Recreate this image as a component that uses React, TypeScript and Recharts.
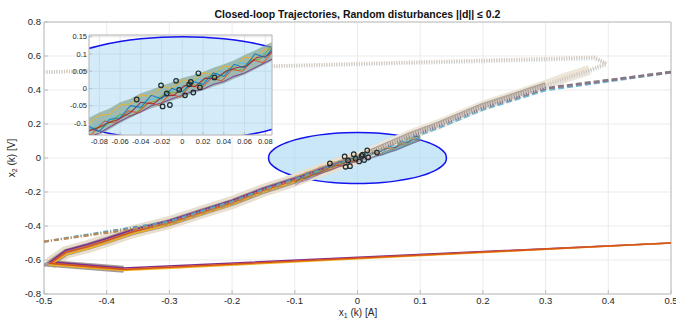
import { Area, CartesianGrid, ComposedChart, Line, ReferenceArea, XAxis, YAxis } from "recharts"

const xTicks = [-0.5, -0.4, -0.3, -0.2, -0.1, 0, 0.1, 0.2, 0.3, 0.4, 0.5]
const yTicks = [-0.8, -0.6, -0.4, -0.2, 0, 0.2, 0.4, 0.6, 0.8]
const insetXTicks = [-0.08, -0.06, -0.04, -0.02, 0, 0.02, 0.04, 0.06, 0.08]
const insetYTicks = [-0.1, -0.05, 0, 0.05, 0.1, 0.15]

// start (0.5, -0.5), solid
const solidX = [0.5, -0.373, -0.49, -0.465, -0.43, -0.4, -0.36, -0.3, -0.25, -0.2, -0.15, -0.1, -0.06, -0.03, 0]
const solidY1 = [-0.5, -0.655, -0.62, -0.555, -0.52, -0.485, -0.435, -0.38, -0.32, -0.262, -0.19, -0.13, -0.075, -0.035, 0]
const solidY2 = [-0.5, -0.647, -0.611, -0.542, -0.507, -0.474, -0.423, -0.368, -0.309, -0.25, -0.18, -0.121, -0.068, -0.03, 0.003]
const solidY3 = [-0.5, -0.662, -0.629, -0.568, -0.533, -0.498, -0.447, -0.392, -0.332, -0.274, -0.2, -0.139, -0.082, -0.04, -0.003]

// start (-0.5, -0.5), dash-dot
const dashDotX = [-0.5, -0.3, -0.25, -0.2, -0.15, -0.1, -0.06, -0.03, 0]
const dashDotY1 = [-0.492, -0.374, -0.314, -0.256, -0.186, -0.125, -0.071, -0.033, 0.002]
const dashDotY2 = [-0.492, -0.388, -0.327, -0.268, -0.196, -0.134, -0.079, -0.037, -0.002]

// start (0.5, 0.5), dashed
const dashedX = [0.5, 0.3, 0.25, 0.2, 0.13, 0.084, 0.04, 0]
const dashedY1 = [0.505, 0.41, 0.352, 0.296, 0.19, 0.126, 0.058, 0]
const dashedY2 = [0.505, 0.4, 0.343, 0.286, 0.18, 0.118, 0.052, -0.003]

// start (-0.5, 0.5), dotted
const dottedX = [-0.5, 0.378, 0.397, 0.37, 0.33, 0.3, 0.25, 0.2, 0.13, 0.084, 0.04, 0]
const dottedY1 = [0.505, 0.592, 0.557, 0.518, 0.47, 0.43, 0.368, 0.308, 0.2, 0.137, 0.066, 0.003]
const dottedY2 = [0.505, 0.584, 0.549, 0.509, 0.46, 0.42, 0.358, 0.298, 0.191, 0.129, 0.061, -0.002]

// invariant ellipse: x positions and half heights
const ellipseX = [-0.142, -0.141, -0.138, -0.133, -0.125, -0.115, -0.1, -0.08, -0.06, -0.04, -0.02, 0, 0.02, 0.04, 0.06, 0.08, 0.1, 0.115, 0.125, 0.133, 0.138, 0.141, 0.142]
const ellipseHalf = [0, 0.0177, 0.0353, 0.0525, 0.0712, 0.088, 0.1065, 0.1239, 0.136, 0.1439, 0.1485, 0.15, 0.1485, 0.1439, 0.136, 0.1239, 0.1065, 0.088, 0.0712, 0.0525, 0.0353, 0.0177, 0]

// noisy cloud near the origin
const cloudX = [-0.1, -0.09, -0.08, -0.07, -0.06, -0.05, -0.04, -0.03, -0.02, -0.01, 0, 0.01, 0.02, 0.03, 0.04, 0.05, 0.06, 0.07, 0.08, 0.09, 0.1]
const cloudLow = [-0.165, -0.15, -0.135, -0.118, -0.1, -0.085, -0.07, -0.058, -0.048, -0.036, -0.026, -0.014, -0.006, 0.006, 0.014, 0.028, 0.04, 0.055, 0.07, 0.085, 0.1]
const cloudHigh = [-0.1, -0.085, -0.07, -0.058, -0.04, -0.03, -0.014, -0.004, 0.008, 0.018, 0.03, 0.038, 0.048, 0.06, 0.07, 0.082, 0.097, 0.11, 0.125, 0.14, 0.155]

const noiseBlue = [[-0.1, -0.15], [-0.09, -0.11], [-0.08, -0.125], [-0.07, -0.09], [-0.06, -0.085], [-0.05, -0.05], [-0.04, -0.055], [-0.03, -0.02], [-0.02, -0.03], [-0.01, 0], [0, -0.01], [0.01, 0.02], [0.02, 0.012], [0.03, 0.045], [0.04, 0.035], [0.05, 0.07], [0.06, 0.06], [0.07, 0.1], [0.08, 0.09], [0.09, 0.13], [0.1, 0.12]]
const noiseOrange = [[-0.1, -0.12], [-0.088, -0.135], [-0.075, -0.095], [-0.065, -0.1], [-0.052, -0.065], [-0.043, -0.07], [-0.032, -0.04], [-0.022, -0.05], [-0.012, -0.015], [-0.002, -0.025], [0.008, 0.01], [0.018, 0], [0.028, 0.03], [0.038, 0.022], [0.048, 0.055], [0.058, 0.05], [0.068, 0.082], [0.078, 0.075], [0.088, 0.11], [0.1, 0.1]]
const noiseYellow = [[-0.1, -0.105], [-0.09, -0.1], [-0.08, -0.078], [-0.07, -0.075], [-0.06, -0.048], [-0.05, -0.045], [-0.04, -0.02], [-0.03, -0.022], [-0.02, 0.005], [-0.01, 0], [0, 0.025], [0.01, 0.02], [0.02, 0.045], [0.03, 0.042], [0.04, 0.065], [0.05, 0.062], [0.06, 0.09], [0.07, 0.088], [0.08, 0.115], [0.09, 0.112], [0.1, 0.145]]
const noisePurple = [[-0.1, -0.16], [-0.09, -0.14], [-0.08, -0.13], [-0.07, -0.112], [-0.06, -0.095], [-0.05, -0.08], [-0.04, -0.068], [-0.03, -0.05], [-0.02, -0.042], [-0.01, -0.03], [0, -0.02], [0.01, -0.008], [0.02, -0.002], [0.03, 0.012], [0.04, 0.02], [0.05, 0.035], [0.06, 0.045], [0.07, 0.06], [0.08, 0.075], [0.09, 0.09], [0.1, 0.105]]
const noiseGreen = [[-0.1, -0.135], [-0.085, -0.115], [-0.075, -0.11], [-0.06, -0.075], [-0.048, -0.08], [-0.035, -0.045], [-0.025, -0.035], [-0.015, -0.01], [-0.005, -0.012], [0.005, 0.015], [0.015, 0.008], [0.025, 0.035], [0.035, 0.03], [0.045, 0.058], [0.055, 0.052], [0.065, 0.08], [0.075, 0.085], [0.085, 0.12], [0.1, 0.125]]
const noiseCyan = [[-0.1, -0.125], [-0.09, -0.12], [-0.078, -0.1], [-0.068, -0.085], [-0.055, -0.075], [-0.045, -0.058], [-0.035, -0.035], [-0.025, -0.028], [-0.015, -0.02], [-0.005, 0.005], [0.005, 0.002], [0.015, 0.028], [0.025, 0.02], [0.035, 0.05], [0.045, 0.045], [0.055, 0.075], [0.065, 0.07], [0.075, 0.1], [0.085, 0.1], [0.1, 0.135]]
const noiseRed = [[-0.1, -0.14], [-0.092, -0.125], [-0.082, -0.115], [-0.072, -0.1], [-0.062, -0.09], [-0.05, -0.07], [-0.04, -0.04], [-0.028, -0.045], [-0.018, -0.022], [-0.008, -0.02], [0.002, 0.008], [0.012, 0.005], [0.022, 0.03], [0.032, 0.028], [0.042, 0.05], [0.052, 0.06], [0.062, 0.065], [0.072, 0.09], [0.082, 0.095], [0.092, 0.125], [0.1, 0.13]]

// final states (circles)
const finalStates = [[-0.0205, 0.009], [-0.006, 0.022], [0.0082, 0.019], [0.0066, 0.012], [-0.015, -0.0145], [-0.003, -0.004], [0.0106, -0.0117], [0.0026, -0.02], [-0.012, -0.048], [-0.019, -0.052], [0.0155, 0.044], [0.031, 0.032], [-0.044, -0.032], [0.017, 0.003]]

const font = '"Liberation Sans", Arial, Helvetica, sans-serif'
const tickFont = { fontSize: 9.5, fill: "#262626", fontFamily: font }
const insetFont = { fontSize: 7.5, fill: "#262626", fontFamily: font }
const axisGray = "#bcbcbc"

const pts = (xs: number[], ys: number[]) => xs.map((x, i) => ({ x, y: ys[i] }))
const pairs = (p: number[][]) => p.map(([x, y]) => ({ x, y }))

const ellipseData = ellipseX.map((x, i) => ({ x, r: [-ellipseHalf[i], ellipseHalf[i]] }))
const cloudData = cloudX.map((x, i) => ({ x, r: [cloudLow[i], cloudHigh[i]] }))

type Traj = { data: { x: number; y: number }[]; stroke: string; width: number; opacity?: number; dash?: string }

const trajectories: Traj[] = [
  // pale fringe and blended core of the bundles
  { data: pts(solidX.slice(2), solidY1.slice(2)), stroke: "#e9dfd0", width: 13 },
  { data: pts(dottedX.slice(3), dottedY1.slice(3)), stroke: "#eee6d9", width: 10 },
  { data: pts(solidX.slice(1), solidY1.slice(1)), stroke: "#958781", width: 7, opacity: 0.85 },
  { data: pts(dottedX.slice(5), dottedY1.slice(5)), stroke: "#9d908a", width: 5.5, opacity: 0.8 },
  // individual runs
  { data: pts(solidX, solidY2), stroke: "#7E2F8E", width: 1.6 },
  { data: pts(solidX, solidY3), stroke: "#EDB120", width: 1.6 },
  { data: pts(solidX, solidY1), stroke: "#D95319", width: 1.6 },
  { data: pts(dashDotX, dashDotY1), stroke: "#5aa0b8", width: 2.2, dash: "5 2 1 2" },
  { data: pts(dashDotX, dashDotY2), stroke: "#b88a55", width: 2.2, dash: "5 2 1 2" },
  { data: pts(dashedX, dashedY2), stroke: "#6fb8d8", width: 2.8, dash: "6 3" },
  { data: pts(dashedX, dashedY1), stroke: "#8a7683", width: 2.8, dash: "6 3" },
  { data: pts(dottedX, dottedY2), stroke: "#cdd9e0", width: 3.5, dash: "1 1.5" },
  { data: pts(dottedX, dottedY1), stroke: "#d3c6b8", width: 3.5, dash: "1 1.5" },
]

const noise = [
  { data: pairs(noiseYellow), stroke: "#EDB120" },
  { data: pairs(noiseCyan), stroke: "#4DBEEE" },
  { data: pairs(noiseGreen), stroke: "#77AC30" },
  { data: pairs(noisePurple), stroke: "#7E2F8E" },
  { data: pairs(noiseOrange), stroke: "#D95319" },
  { data: pairs(noiseRed), stroke: "#A2142F" },
  { data: pairs(noiseBlue), stroke: "#0072BD" },
]

const circleDot = { r: 2.3, fill: "none", stroke: "#1d2b30", strokeWidth: 1.2 }

export default function App() {
  return (
    <div style={{ position: "absolute", left: 0, top: 0, width: 676, height: 322, background: "#fff", fontFamily: font }}>
      <ComposedChart width={676} height={322} margin={{ top: 22, right: 5, bottom: 8, left: 0 }}>
        <CartesianGrid stroke="#ebebeb" />
        <XAxis
          type="number"
          dataKey="x"
          domain={[-0.5, 0.5]}
          ticks={xTicks}
          interval={0}
          allowDataOverflow
          height={20}
          axisLine={false}
          tickLine={{ stroke: axisGray }}
          tickSize={-4}
          tickMargin={7.5}
          tick={tickFont}
        />
        <XAxis xAxisId="top" orientation="top" type="number" domain={[-0.5, 0.5]} ticks={xTicks} interval={0} height={0} axisLine={false} tickLine={{ stroke: axisGray }} tickSize={-4} tick={false} />
        <YAxis
          type="number"
          dataKey="y"
          domain={[-0.8, 0.8]}
          ticks={yTicks}
          interval={0}
          allowDataOverflow
          width={44}
          axisLine={false}
          tickLine={{ stroke: axisGray }}
          tickSize={-4}
          tickMargin={7}
          tick={tickFont}
        />
        <YAxis yAxisId="right" orientation="right" type="number" domain={[-0.8, 0.8]} ticks={yTicks} interval={0} width={0} axisLine={false} tickLine={{ stroke: axisGray }} tickSize={-4} tick={false} />
        <Area data={ellipseData} dataKey="r" type="monotone" fill="#9fd4f2" fillOpacity={0.55} stroke="#1414f0" strokeWidth={1.5} isAnimationActive={false} />
        {trajectories.map((t, i) => (
          <Line key={"t" + i} data={t.data} dataKey="y" type="linear" stroke={t.stroke} strokeWidth={t.width} strokeOpacity={t.opacity ?? 1} strokeDasharray={t.dash} dot={false} isAnimationActive={false} />
        ))}
        <Area data={cloudData} dataKey="r" type="linear" fill="#5e9e9f" fillOpacity={0.8} stroke="none" isAnimationActive={false} />
        {noise.map((n, i) => (
          <Line key={"n" + i} data={n.data} dataKey="y" type="linear" stroke={n.stroke} strokeWidth={0.8} strokeOpacity={0.6} dot={false} isAnimationActive={false} />
        ))}
        <Line data={pairs(finalStates)} dataKey="y" stroke="none" dot={circleDot} isAnimationActive={false} />
        <ReferenceArea x1={-0.5} x2={0.5} y1={-0.8} y2={0.8} fill="none" stroke={axisGray} strokeWidth={1} />
      </ComposedChart>

      <div style={{ position: "absolute", left: 44, top: 7, width: 627, textAlign: "center", fontSize: 10.5, fontWeight: "bold", color: "#111", lineHeight: "14px" }}>
        Closed-loop Trajectories, Random disturbances ||d|| ≤ 0.2
      </div>
      <div style={{ position: "absolute", left: 358, top: 314, transform: "translate(-50%, -50%)", fontSize: 10, color: "#262626", whiteSpace: "nowrap", lineHeight: "12px" }}>
        x<sub style={{ fontSize: 7, verticalAlign: "-2px" }}>1</sub> (k) [A]
      </div>
      <div style={{ position: "absolute", left: 13, top: 158, transform: "translate(-50%, -50%) rotate(-90deg)", fontSize: 10, color: "#262626", whiteSpace: "nowrap", lineHeight: "12px" }}>
        x<sub style={{ fontSize: 7, verticalAlign: "-2px" }}>2</sub> (k) [V]
      </div>

      <div style={{ position: "absolute", left: 55, top: 25 }}>
        <ComposedChart width={222} height={130} margin={{ top: 10, right: 5, bottom: 6, left: 8 }}>
          <CartesianGrid stroke="#e4e4e4" fill="#ffffff" fillOpacity={1} />
          <XAxis
            type="number"
            dataKey="x"
            domain={[-0.09, 0.0865]}
            ticks={insetXTicks}
            interval={0}
            allowDataOverflow
            height={14}
            axisLine={false}
            tickLine={{ stroke: axisGray }}
            tickSize={-3}
            tickMargin={6.5}
            tick={insetFont}
          />
          <YAxis
            type="number"
            dataKey="y"
            domain={[-0.135, 0.155]}
            ticks={insetYTicks}
            interval={0}
            allowDataOverflow
            width={26}
            axisLine={false}
            tickLine={{ stroke: axisGray }}
            tickSize={-3}
            tickMargin={5}
            tick={insetFont}
          />
          <Area data={ellipseData} dataKey="r" type="monotone" fill="#9fd4f2" fillOpacity={0.45} stroke="#1414f0" strokeWidth={1.6} isAnimationActive={false} />
          <Area data={cloudData} dataKey="r" type="linear" fill="#86a596" fillOpacity={0.7} stroke="none" isAnimationActive={false} />
          {noise.map((n, i) => (
            <Line key={"in" + i} data={n.data} dataKey="y" type="linear" stroke={n.stroke} strokeWidth={1.1} strokeOpacity={0.8} dot={false} isAnimationActive={false} />
          ))}
          <Line data={pairs(finalStates)} dataKey="y" stroke="none" dot={circleDot} isAnimationActive={false} />
          <ReferenceArea x1={-0.09} x2={0.0865} y1={-0.135} y2={0.155} fill="none" stroke={axisGray} strokeWidth={1} />
        </ComposedChart>
      </div>
    </div>
  )
}
